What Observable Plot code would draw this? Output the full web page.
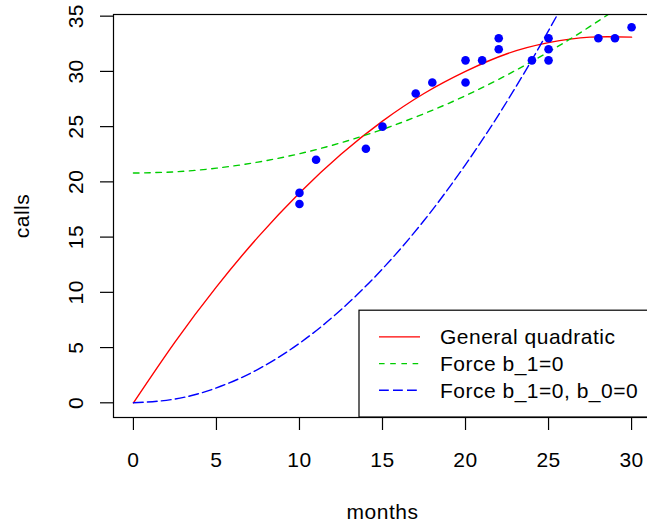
<!DOCTYPE html>
<html><head><meta charset="utf-8">
<script src="https://cdn.jsdelivr.net/npm/d3@7"></script>
<script src="https://cdn.jsdelivr.net/npm/@observablehq/plot@0.6"></script>
<style>
html,body{margin:0;padding:0;overflow:hidden;background:#fff;}
#chart{width:660px;}
#chart svg{display:block;max-width:none !important;width:660px !important;height:525px !important;}
</style></head><body><div id="chart"></div>
<script>
// observed data
const months = [10,10,11,14,15,17,18,20,20,21,22,22,24,25,25,25,28,29,30];
const calls  = [19,18,22,23,25,28,29,31,29,31,33,32,31,33,32,31,33,33,34];
// fitted curves at these month values
const curveX           = [0, 2.5, 5, 7.5, 10, 12.5, 15, 17.5, 20, 22.5, 25, 27.5, 30];
const generalQuadratic = [0, 5.5, 10.5, 15.0, 19.0, 22.5, 25.5, 28.0, 30.0, 31.6, 32.6, 33.1, 33.1];
const forceB1          = [20.8, 20.91, 21.24, 21.79, 22.55, 23.54, 24.75, 26.17, 27.8, 29.68, 31.76, 34.07, 36.6];
const forceB1B0        = [0, 0.34, 1.35, 3.03, 5.39, 8.42, 12.13, 16.5, 21.56, 27.29, 33.69, 40.76, 48.5];
const xTicks = [0, 5, 10, 15, 20, 25, 30];
const yTicks = [0, 5, 10, 15, 20, 25, 30, 35];
const seriesNames  = ["General quadratic", "Force b_1=0", "Force b_1=0, b_0=0"];
const seriesColors = ["#FF0000", "#00CD00", "#0000FF"];
const seriesDash   = [null, "5.6,5.6", "9.8,4.2"];
const seriesValues = [generalQuadratic, forceB1, forceB1B0];

const points = months.map((m, i) => ({x: m, y: calls[i]}));
const curves = seriesValues.map(vals => curveX.map((x, i) => ({x, y: vals[i]})));

const W = 660, H = 525;
const mL = 113, mR = 9, mT = 14, mB = 108;
const FONT = "'Liberation Sans', Arial, Helvetica, sans-serif";

const plot = Plot.plot({
  width: W, height: H,
  marginLeft: mL, marginRight: mR, marginTop: mT, marginBottom: mB,
  x: {domain: [-1.2, 31.2]},
  y: {domain: [-1.33, 35.15]},
  style: {fontFamily: FONT, fontSize: "21px", letterSpacing: "0.5px", background: "white", color: "black"},
  marks: [
    ...curves.map((c, i) => Plot.line(c, {
      x: "x", y: "y", stroke: seriesColors[i], strokeWidth: 1.4,
      strokeDasharray: seriesDash[i] || undefined, curve: "natural", clip: true
    })),
    Plot.dot(points, {x: "x", y: "y", r: 4.3, fill: "#0000FF"}),
    Plot.frame({stroke: "black", strokeWidth: 1.2}),
    Plot.axisX({ticks: xTicks, tickSize: 13, tickPadding: 22, label: null, anchor: "bottom", fontSize: 21, strokeWidth: 1.2}),
    Plot.axisY({ticks: yTicks, tickSize: 13, tickFormat: () => "", label: null, anchor: "left", strokeWidth: 1.2}),
    Plot.text(yTicks, {y: d => d, text: d => String(d), frameAnchor: "left", dx: -37.7, rotate: -90,
      textAnchor: "middle", lineAnchor: "middle", fontSize: 21}),
    Plot.text(["months"], {text: d => d, frameAnchor: "bottom", dy: 94.3, lineAnchor: "middle", fontSize: 21}),
    Plot.text(["calls"], {text: d => d, frameAnchor: "left", dx: -91.7, rotate: -90,
      textAnchor: "middle", lineAnchor: "middle", fontSize: 21})
  ]
});
document.getElementById("chart").appendChild(plot);

// legend (bottom-right, inside the plot frame, as in R's legend("bottomright"))
const svg = d3.select(plot);
const frameRight = W - mR, frameBottom = H - mB;
const rowH = 26.7;
const boxW = 292, boxH = rowH * (seriesNames.length + 1);
const bx = frameRight - boxW, by = frameBottom - boxH;
const lg = svg.append("g").attr("font-family", FONT).attr("font-size", 21)
  .attr("text-anchor", "start").style("letter-spacing", "0.5px");
lg.append("rect").attr("x", bx).attr("y", by).attr("width", boxW).attr("height", boxH)
  .attr("fill", "white").attr("stroke", "black").attr("stroke-width", 1.2);
seriesNames.forEach((name, i) => {
  const yy = by + rowH * (i + 1);
  lg.append("line").attr("x1", bx + 20).attr("x2", bx + 61).attr("y1", yy).attr("y2", yy)
    .attr("stroke", seriesColors[i]).attr("stroke-width", 1.4)
    .attr("stroke-dasharray", seriesDash[i]);
  lg.append("text").attr("x", bx + 81).attr("y", yy).attr("dy", "0.36em")
    .attr("text-anchor", "start").attr("fill", "black").text(name);
});
</script>
</body></html>
